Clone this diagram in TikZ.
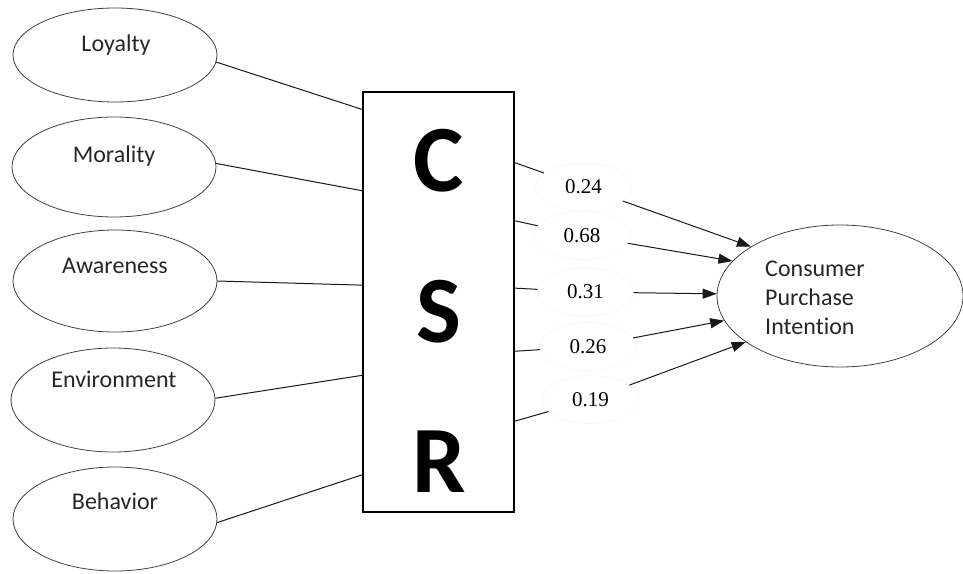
\documentclass[tikz,border=0pt]{standalone}
\usepackage{fontspec}
\setmainfont{Carlito}[Ligatures={NoCommon}]
\newfontfamily\numfont{Liberation Serif}
\usetikzlibrary{shapes.geometric,arrows.meta,calc}
\begin{document}
\begin{tikzpicture}[x=1pt,y=-1pt,
  oval/.style={ellipse,draw=black!75,line width=0.8pt,minimum width=204pt,inner sep=0pt},
  ovaltext/.style={font=\fontsize{24}{29}\selectfont,text=black!85,anchor=base,inner sep=0pt},
  coef/.style={ellipse,draw=black!4,line width=0.5pt,minimum width=96pt,minimum height=48pt,inner sep=0pt,font=\numfont\fontsize{21}{24}\selectfont},
  link/.style={line width=1pt,black!90},
  arr/.style={link,-{Triangle[length=14pt,width=10pt]}},
  big/.style={font=\fontsize{95}{100}\selectfont\bfseries,anchor=base,inner sep=0pt}
]
\useasboundingbox (0,0) rectangle (963,573);

% left ellipses
\node[oval,minimum height=94pt]  (loy) at (115,55)  {};
\node[oval,minimum height=100pt] (mor) at (114,167) {};
\node[oval,minimum height=102pt] (awa) at (115,281) {};
\node[oval,minimum height=104pt] (env) at (113,400) {};
\node[oval,minimum height=104pt] (beh) at (115,519) {};
\node[ovaltext] (tloy) at (116,51)  {Loyalty};
\node[ovaltext] (tmor) at (114,162) {Morality};
\node[ovaltext] (tawa) at (115,273) {Awareness};
\node[ovaltext] (tenv) at (114,387) {Environment};
\node[ovaltext] (tbeh) at (115,509) {Behavior};

% CSR box
\node[draw,line width=1.2pt,minimum width=151pt,minimum height=420pt,inner sep=0pt] (csr) at (438.5,302) {};
\node[big] (lc) at (439,191) {C};
\node[big] (ls) at (439,342) {S};
\node[big] (lr) at (439,492) {R};

% right ellipse
\node[oval,minimum width=246pt,minimum height=142pt] (cpi) at (840,296) {};
\node[anchor=north west,align=left,inner sep=0pt,text=black!85,font=\fontsize{24}{29}\selectfont] (tcpi) at (765,261) {Consumer\\Purchase\\Intention};

% coefficient labels
\node[coef] (k1) at (583.5,187) {0.24};
\node[coef] (k2) at (582,235.5) {0.68};
\node[coef] (k3) at (585.5,292) {0.31};
\node[coef] (k4) at (588,346.5) {0.26};
\node[coef] (k5) at (590.5,399.5) {0.19};

% left links
\draw[link] (loy.-4) -- ($(csr.north west)!0.043!(csr.south west)$);
\draw[link] (mor.2)  -- ($(csr.north west)!0.236!(csr.south west)$);
\draw[link] (awa.0)  -- ($(csr.north west)!0.460!(csr.south west)$);
\draw[link] (env.1)  -- ($(csr.north west)!0.674!(csr.south west)$);
\draw[link] (beh.-2) -- ($(csr.north west)!0.910!(csr.south west)$);

% right links
\draw[link] ($(csr.north east)!0.169!(csr.south east)$) -- (k1);
\draw[link] ($(csr.north east)!0.307!(csr.south east)$) -- (k2);
\draw[link] ($(csr.north east)!0.467!(csr.south east)$) -- (k3);
\draw[link] ($(csr.north east)!0.617!(csr.south east)$) -- (k4);
\draw[link] ($(csr.north east)!0.783!(csr.south east)$) -- (k5);

\draw[arr] (k1) -- (cpi.151);
\draw[arr] (k2) -- (cpi.162);
\draw[arr] (k3) -- (cpi.179);
\draw[arr] (k4) -- (cpi.192);
\draw[arr] (k5) -- (cpi.206);
\end{tikzpicture}
\end{document}
